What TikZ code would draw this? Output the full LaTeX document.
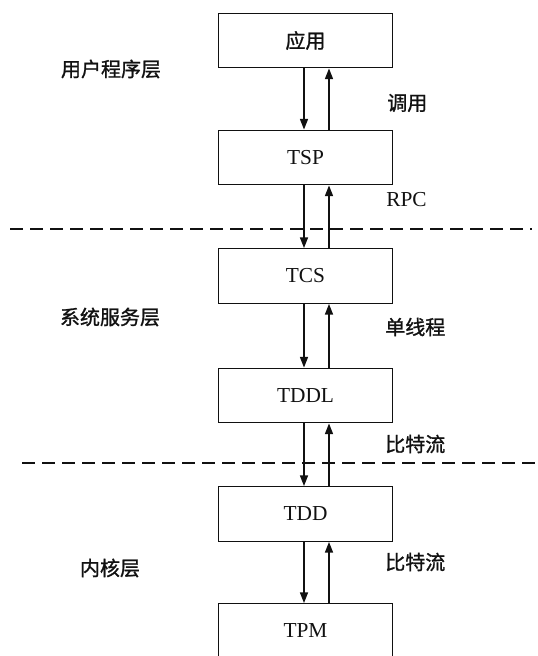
\documentclass[tikz,border=0pt]{standalone}
\usepackage{fontspec}
\setmainfont{Liberation Serif}
\newfontfamily\cjk[FakeBold=1.2]{Noto Sans CJK SC}
\usetikzlibrary{arrows.meta,positioning,calc}
\definecolor{ink}{HTML}{111111}
\tikzset{
  blk/.style ={draw=ink, line width=0.9pt, minimum width=130pt, minimum height=41pt,
               inner sep=0pt, font=\fontsize{16}{19}\selectfont, text=ink},
  dn/.style  ={draw=ink, line width=1.1pt, -{Triangle[length=8pt,width=6pt]}},
  sep/.style ={draw=ink, line width=1.4pt, dash pattern=on 10pt off 5pt},
  lyr/.style ={font=\cjk\fontsize{15}{18}\selectfont, text=ink, inner sep=0pt},
  tag/.style ={lyr, anchor=west},
}

\begin{document}
\begin{tikzpicture}[x=0.75pt,y=-0.75pt]
  \useasboundingbox (0,0) rectangle (538,656);
  \clip (0,0) rectangle (538,656);
  \def\cx{305.5}
  \node[blk] (app)  at (\cx,40.5)  {\cjk\fontsize{15}{18}\selectfont 应用};
  \node[blk] (tsp)  at (\cx,157.5) {TSP};
  \node[blk] (tcs)  at (\cx,276)   {TCS};
  \node[blk] (tddl) at (\cx,395.5) {TDDL};
  \node[blk] (tdd)  at (\cx,514)   {TDD};
  \node[blk] (tpm)  at (\cx,631)   {TPM};
  % call down on the left, return up on the right
  \foreach \a/\b in {app/tsp,tsp/tcs,tcs/tddl,tddl/tdd,tdd/tpm}{
    \draw[dn] ($(\a.south)+(-1.5,0)$) -- ($(\b.north)+(-1.5,0)$);
    \draw[dn] ($(\b.north)+(23.5,0)$) -- ($(\a.south)+(23.5,0)$);
  }
  \draw[sep] (10,229) -- (532,229);
  \draw[sep] (22,463) -- (538,463);
  \node[lyr] (user) at (111,69)  {用户程序层};
  \node[lyr] (sys)  at (110,317) {系统服务层};
  \node[lyr] (krn)  at (110,568) {内核层};
  \node[tag] (call) at (387,103) {调用};
  \node[tag,font=\fontsize{16}{19}\selectfont] (rpc) at (386,200) {RPC};
  \node[tag] (thr)  at (385,327) {单线程};
  \node[tag] (bs1)  at (385,444) {比特流};
  \node[tag] (bs2)  at (385,562) {比特流};
\end{tikzpicture}
\end{document}
